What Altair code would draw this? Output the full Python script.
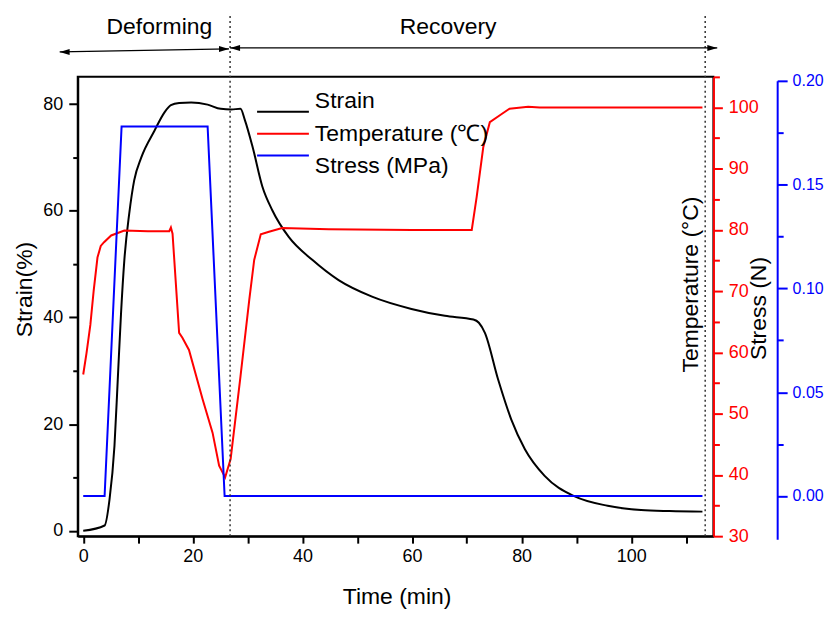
import altair as alt
import pandas as pd

# ---------------- data ----------------
strain_time = [0.0, 3.9, 4.8, 5.7, 6.3, 6.9, 7.5, 8.4, 9.3, 10.6,
               13.0, 14.8, 16.0, 17.5, 19.7, 22.7, 25.1, 27.0, 28.7, 29.5,
               30.9, 32.7, 34.5, 37.5, 41.8, 46.6, 52.7, 59.9, 66.0, 71.2,
               72.2, 73.3, 75.7, 78.1, 80.6, 84.2, 89.6, 95.7, 101.8, 107.0,
               113.0]
strain_val = [0.0, 1.0, 5.9, 15.9, 28.3, 40.8, 50.7, 59.5, 65.7, 70.0,
              75.0, 78.4, 79.8, 80.2, 80.3, 79.9, 79.1, 79.0, 79.1, 77.0,
              72.0, 64.5, 60.1, 55.1, 50.8, 47.0, 43.9, 41.6, 40.3, 39.6,
              39.0, 37.1, 28.4, 20.9, 15.3, 10.3, 6.5, 4.7, 3.9, 3.7,
              3.6]

temp_time = [0.0, 0.6, 1.3, 1.9, 2.6, 3.2, 3.8, 5.1, 7.5, 11.8,
             15.7, 16.0, 16.3, 17.5, 18.1, 19.3, 21.8, 23.6, 24.8, 25.9,
             26.9, 28.7, 30.3, 31.2, 32.4, 33.9, 36.3, 44.8, 60.0, 70.9,
             71.8, 73.0, 74.2, 76.3, 77.8, 81.2, 83.3, 113.0]
temp_val = [56.4, 59.9, 64.5, 70.0, 75.5, 77.4, 78.0, 79.1, 79.9, 79.8,
            79.8, 80.4, 79.4, 63.2, 62.4, 60.4, 52.3, 46.9, 41.5, 39.6,
            42.6, 56.1, 68.6, 75.1, 79.3, 79.7, 80.3, 80.1, 80.0, 80.0,
            85.4, 93.5, 97.6, 98.9, 99.8, 100.1, 100.0, 100.0]

stress_time = [0.0, 3.9, 7.0, 22.7, 25.8, 113.0]
stress_val = [0.0, 0.0, 0.178, 0.178, 0.0, 0.0]

SERIES = ["Strain", "Temperature (℃)", "Stress (MPa)"]
COLORS = ["#000000", "#ff0000", "#0000ff"]

phase_names = ["Deforming", "Recovery"]
phase_centers = [13.9, 66.6]
phase_bounds = [26.8, 113.5]
arrow_start = [-4.3, 26.8]
arrow_end = [26.6, 115.7]

strain_ticks = list(range(0, 81, 10))
temp_ticks = list(range(30, 106, 5))
stress_ticks = [0.0, 0.025, 0.05, 0.075, 0.10, 0.125, 0.15, 0.175, 0.20]
time_ticks = list(range(0, 111, 10))

# ---------------- chart ----------------
FONT = "Liberation Sans"

strain_df = pd.DataFrame({"time": strain_time, "value": strain_val, "series": SERIES[0]})
temp_df = pd.DataFrame({"time": temp_time, "value": temp_val, "series": SERIES[1]})
stress_df = pd.DataFrame({"time": stress_time, "value": stress_val, "series": SERIES[2]})
legend_df = pd.DataFrame({"series": SERIES})
phase_df = pd.DataFrame({"name": phase_names, "center": phase_centers})
bound_df = pd.DataFrame({"t": phase_bounds})
arrow_df = pd.DataFrame({"start": arrow_start, "end": arrow_end})

x_scale = alt.Scale(domain=[-1.0, 115.0], nice=False, zero=False)
x_axis = alt.Axis(values=time_ticks,
                  labelExpr="datum.value % 20 == 0 ? datum.label : ''",
                  tickSize=7, labelPadding=4, labelFlush=False,
                  title="Time (min)", titleX=320, titleY=61,
                  titleBaseline="middle", titleAlign="center")


def X(field):
    return alt.X(field, scale=x_scale, axis=x_axis, title="Time (min)")


color = alt.Color("series:N", scale=alt.Scale(domain=SERIES, range=COLORS), legend=None)

strain_line = alt.Chart(strain_df).mark_line(strokeWidth=2, interpolate="monotone").encode(
    x=X("time:Q"),
    y=alt.Y("value:Q",
            scale=alt.Scale(domain=[-1.0, 85.1], nice=False, zero=False),
            axis=alt.Axis(orient="left", values=strain_ticks,
                          labelExpr="datum.value % 20 == 0 ? datum.label : ''",
                          tickSize={"condition": {"test": "datum.value % 20 == 0", "value": 9}, "value": 5},
                          labelPadding=6,
                          title="Strain(%)", titleX=-53, titleY=213, titleAngle=270,
                          titleBaseline="middle", titleAlign="center")),
    color=color,
)

temp_line = alt.Chart(temp_df).mark_line(strokeWidth=2).encode(
    x=X("time:Q"),
    y=alt.Y("value:Q",
            scale=alt.Scale(domain=[30, 105], nice=False, zero=False),
            axis=alt.Axis(orient="right", values=temp_ticks,
                          labelExpr="datum.value % 10 == 0 ? datum.label : ''",
                          tickSize={"condition": {"test": "datum.value % 10 == 0", "value": 9}, "value": 6},
                          labelPadding=6,
                          domainColor="#ff0000", tickColor="#ff0000", labelColor="#ff0000",
                          title="Temperature (°C)", titleX=-23, titleY=208, titleAngle=270,
                          titleBaseline="middle", titleAlign="center")),
    color=color,
)

stress_line = alt.Chart(stress_df).mark_line(strokeWidth=2).encode(
    x=X("time:Q"),
    y=alt.Y("value:Q",
            scale=alt.Scale(domain=[-0.02078, 0.20], range=[464, 4], nice=False, zero=False),
            axis=alt.Axis(orient="right", offset=64, values=stress_ticks,
                          labelExpr="abs(datum.value*20 - round(datum.value*20)) < 0.001 ? format(datum.value, '.2f') : ''",
                          tickSize={"condition": {"test": "abs(datum.value*20 - round(datum.value*20)) < 0.001", "value": 10}, "value": 6},
                          labelPadding=5, labelFontSize=16,
                          domainColor="#0000ff", tickColor="#0000ff", labelColor="#0000ff",
                          title="Stress (N)", titleX=-19, titleY=232, titleAngle=270,
                          titleBaseline="middle", titleAlign="center")),
    color=color,
)

# legend drawn as marks, rows placed by a point scale over the series names
legend_y = alt.Y("series:N", scale=alt.Scale(domain=SERIES, range=[24, 90], padding=0), axis=None)
legend_lines = alt.Chart(legend_df).mark_rule(strokeWidth=2).encode(
    x=alt.value(180), x2=alt.value(232), y=legend_y, color=color,
)
legend_text = alt.Chart(legend_df).mark_text(font=FONT, fontSize=23, align="left",
                                             baseline="middle", color="black").encode(
    x=alt.value(238), y=legend_y, text="series:N",
)

bounds = alt.Chart(bound_df).mark_rule(strokeDash=[2, 3], strokeWidth=1.5, color="#333333").encode(
    x=X("t:Q"),
    y=alt.value(-61), y2=alt.value(464),
)

phase_text = alt.Chart(phase_df).mark_text(font=FONT, fontSize=23, baseline="middle",
                                           align="center", color="black").encode(
    x=X("center:Q"),
    y=alt.value(-50),
    text="name:N",
)

RIGHT_HEAD = "M0,0L-2,-0.6L-2,0.6Z"
LEFT_HEAD = "M0,0L2,-0.6L2,0.6Z"

def_df = arrow_df.iloc[[0]]
rec_df = arrow_df.iloc[[1]]

def_line = alt.Chart(def_df).mark_rule(color="black", strokeWidth=1.3).encode(
    x=X("start:Q"), x2="end:Q",
    y=alt.value(-25), y2=alt.value(-28))
def_left = alt.Chart(def_df).mark_point(shape=LEFT_HEAD, filled=True, size=100,
                                        color="black", opacity=1).encode(
    x=X("start:Q"), y=alt.value(-25))
def_right = alt.Chart(def_df).mark_point(shape=RIGHT_HEAD, filled=True, size=100,
                                         color="black", opacity=1).encode(
    x=X("end:Q"), y=alt.value(-28))

rec_line = alt.Chart(rec_df).mark_rule(color="black", strokeWidth=1.3).encode(
    x=X("start:Q"), x2="end:Q",
    y=alt.value(-29), y2=alt.value(-29))
rec_left = alt.Chart(rec_df).mark_point(shape=LEFT_HEAD, filled=True, size=100,
                                        color="black", opacity=1).encode(
    x=X("start:Q"), y=alt.value(-29))
rec_right = alt.Chart(rec_df).mark_point(shape=RIGHT_HEAD, filled=True, size=100,
                                         color="black", opacity=1).encode(
    x=X("end:Q"), y=alt.value(-29))

chart = alt.layer(
    strain_line, temp_line, stress_line, legend_lines, legend_text,
    bounds, phase_text, def_line, def_left, def_right, rec_line, rec_left, rec_right,
).resolve_scale(
    y="independent"
).properties(
    width=638, height=461,
    autosize=alt.AutoSizeParams(type="none"),
    padding={"left": 70, "top": 68, "right": 112, "bottom": 74},
).configure_axis(
    labelFont=FONT, titleFont=FONT, labelFontSize=18, titleFontSize=23,
    titleFontWeight="normal", domainWidth=2, tickWidth=2, grid=False,
    domainColor="black", tickColor="black", labelColor="black", titleColor="black",
).configure_view(
    stroke="black", strokeWidth=2,
)

chart.save("out.html", embed_options={"renderer": "svg", "actions": False})
